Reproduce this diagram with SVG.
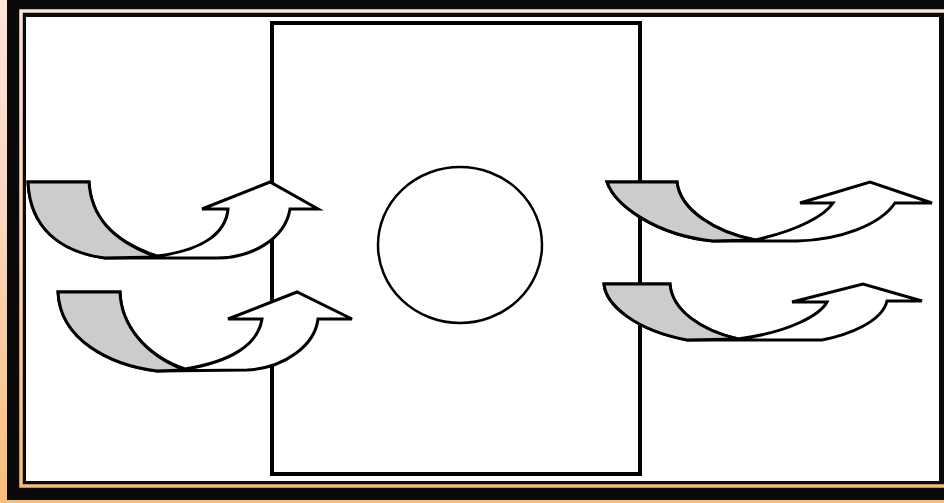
<svg xmlns="http://www.w3.org/2000/svg" width="944" height="503" viewBox="0 0 944 503">
  <defs>
    <linearGradient id="frameGrad" x1="0" y1="0" x2="0" y2="1">
      <stop offset="0" stop-color="#fde4dc"/>
      <stop offset="0.5" stop-color="#fbd3b8"/>
      <stop offset="1" stop-color="#f8be78"/>
    </linearGradient>
    <style>
      .outline { stroke: #000; stroke-width: 3; stroke-linejoin: miter; fill: #ffffff; }
      .tail { stroke: #000; stroke-width: 3; stroke-linejoin: miter; fill: #cccccc; }
      .box { fill: none; stroke: #000; stroke-width: 4; }
      .cell { fill: none; stroke: #000; stroke-width: 2.5; }
    </style>
  </defs>

  <!-- frame -->
  <g id="frame">
    <rect x="0" y="0" width="944" height="503" fill="url(#frameGrad)"/>
    <rect x="7" y="-5" width="945" height="505" fill="#0a0a0a"/>
    <rect x="21" y="11" width="940" height="475" fill="none" stroke="url(#frameGrad)" stroke-width="3.5"/>
    <rect x="26" y="17" width="913" height="464" fill="#ffffff"/>
  </g>

  <!-- nodes -->
  <g id="container">
    <rect class="box" x="272" y="23" width="368" height="451"/>
  </g>
  <g id="nucleus">
    <ellipse class="cell" cx="460" cy="245" rx="82" ry="78"/>
  </g>

  <!-- connectors (curved arrows) -->
  <g id="connectors">
    <g id="arrow-in-1">
      <path class="outline" d="M28,182 L89,182 C91,215 110,240 157,256 C205,250 226,232 228,209 L202,209 L270,182 L318,209 L290,209 C285,240 250,258 217,258 L105,258 C60,252 30,228 28,182 Z"/>
      <path class="tail" d="M28,182 L89,182 C91,215 110,240 157,257 L105,258 C60,252 30,228 28,182 Z"/>
    </g>
    <g id="arrow-in-2">
      <path class="outline" d="M58,292 L120,292 C121,325 145,355 185,369 C230,362 258,345 262,319 L228,319 L297,292 L352,319 L318,319 C315,345 285,368 247,370 L157,371 C110,365 60,340 58,292 Z"/>
      <path class="tail" d="M58,292 L120,292 C121,325 145,355 185,370 L157,371 C110,365 60,340 58,292 Z"/>
    </g>
    <g id="arrow-out-1">
      <path class="outline" d="M607,182 L677,182 C680,210 715,232 755,240 C800,230 825,215 833,203 L800,203 L870,182 L932,203 L895,203 C880,225 840,240 797,241 L713,241 C655,235 615,205 607,182 Z"/>
      <path class="tail" d="M607,182 L677,182 C680,210 715,232 755,240 L713,241 C655,235 615,205 607,182 Z"/>
    </g>
    <g id="arrow-out-2">
      <path class="outline" d="M604,284 L670,284 C672,310 700,330 738,339 C790,332 820,315 827,302 L792,302 L863,284 L922,301 L887,301 C882,322 848,335 822,340 L687,340 C635,330 606,305 604,284 Z"/>
      <path class="tail" d="M604,284 L670,284 C672,310 700,330 738,339 L687,340 C635,330 606,305 604,284 Z"/>
    </g>
  </g>
</svg>
